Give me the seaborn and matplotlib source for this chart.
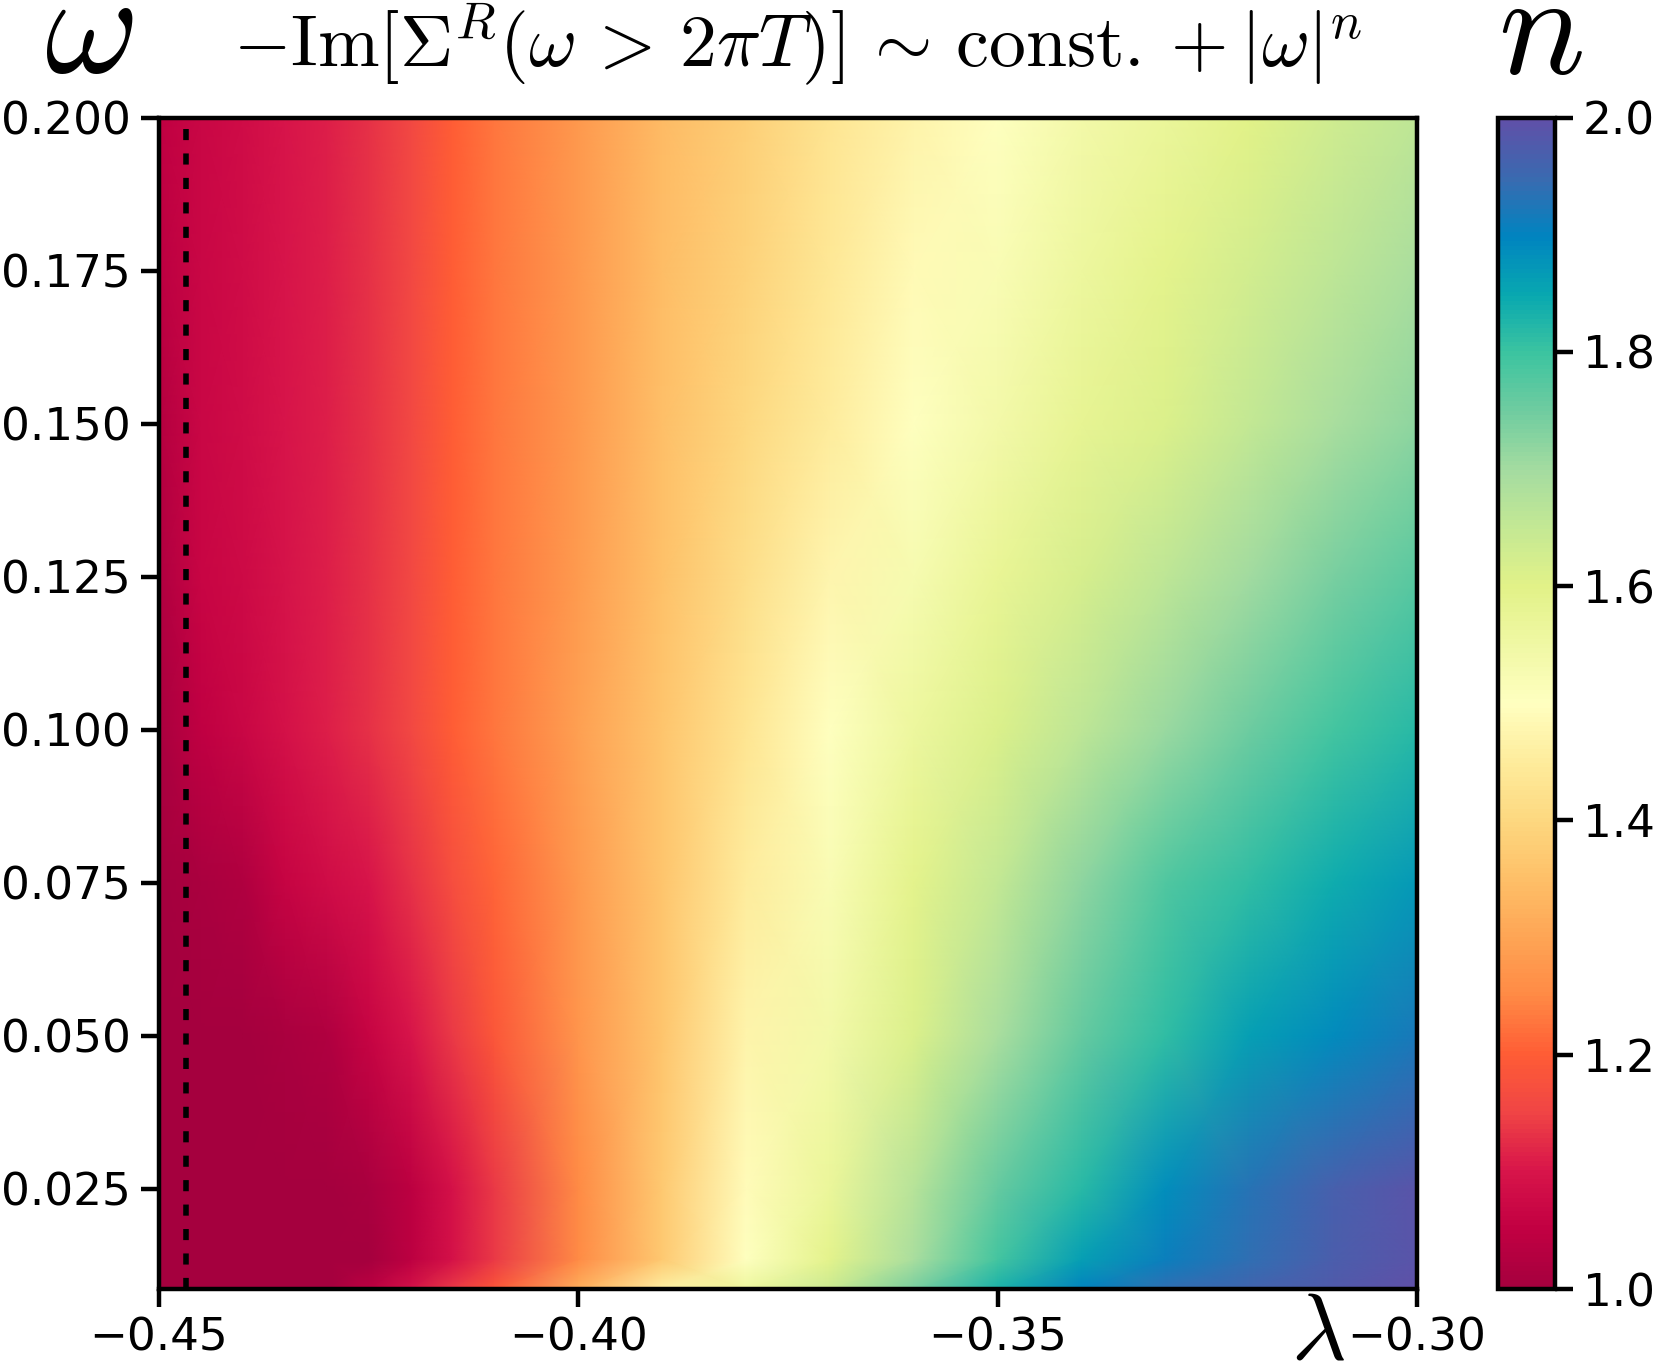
#-----------------------------------------------------------------------------#
'''導入Module'''
import numpy as np
import matplotlib
matplotlib.use("Agg")
import matplotlib.pyplot as plt
import seaborn as sns
#-----------------------------------------------------------------------------#
'''資料 (由圖讀出的 n 值)'''
lam = [-0.45, -0.445, -0.44, -0.435, -0.43, -0.425, -0.42, -0.415, -0.41,
       -0.40, -0.39, -0.38, -0.37, -0.36, -0.35, -0.34, -0.33, -0.32, -0.31, -0.30]
omega = [0.0086, 0.0135, 0.025, 0.05, 0.075, 0.1, 0.125, 0.15, 0.175, 0.2]

n_w0086 = [1.0, 1.0, 1.0, 1.0, 1.0, 1.04, 1.09, 1.14, 1.19, 1.32, 1.46, 1.56, 1.64, 1.74, 1.83, 1.90, 1.94, 1.96, 1.98, 2.0]
n_w0135 = [1.0, 1.0, 1.0, 1.0, 1.0, 1.0, 1.04, 1.09, 1.14, 1.25, 1.37, 1.50, 1.59, 1.69, 1.79, 1.86, 1.91, 1.94, 1.97, 1.99]
n_w025 = [1.0, 1.0, 1.0, 1.0, 1.0, 1.01, 1.04, 1.09, 1.14, 1.25, 1.37, 1.49, 1.57, 1.67, 1.76, 1.82, 1.885, 1.93, 1.965, 1.99]
n_w050 = [1.0, 1.0, 1.0, 1.01, 1.02, 1.06, 1.10, 1.14, 1.19, 1.27, 1.36, 1.47, 1.54, 1.61, 1.69, 1.76, 1.81, 1.86, 1.89, 1.92]
n_w075 = [1.0, 1.01, 1.02, 1.06, 1.08, 1.10, 1.13, 1.17, 1.21, 1.28, 1.36, 1.45, 1.52, 1.59, 1.65, 1.72, 1.78, 1.81, 1.84, 1.87]
n_w100 = [1.01, 1.05, 1.07, 1.09, 1.11, 1.13, 1.16, 1.20, 1.23, 1.29, 1.36, 1.43, 1.50, 1.56, 1.61, 1.66, 1.71, 1.75, 1.79, 1.82]
n_w125 = [1.02, 1.065, 1.075, 1.095, 1.11, 1.13, 1.16, 1.20, 1.23, 1.285, 1.355, 1.415, 1.475, 1.53, 1.575, 1.62, 1.66, 1.70, 1.74, 1.77]
n_w150 = [1.03, 1.07, 1.08, 1.10, 1.11, 1.13, 1.16, 1.20, 1.23, 1.28, 1.35, 1.40, 1.45, 1.50, 1.54, 1.58, 1.61, 1.65, 1.69, 1.72]
n_w175 = [1.04, 1.07, 1.08, 1.10, 1.11, 1.13, 1.16, 1.20, 1.23, 1.28, 1.345, 1.39, 1.44, 1.485, 1.52, 1.56, 1.59, 1.625, 1.66, 1.69]
n_w200 = [1.05, 1.07, 1.08, 1.10, 1.11, 1.13, 1.16, 1.20, 1.23, 1.28, 1.34, 1.38, 1.43, 1.47, 1.50, 1.54, 1.57, 1.60, 1.63, 1.66]

lam_c = -0.4468   # 虛線位置
xticks = [-0.45, -0.40, -0.35, -0.30]
yticks = [0.025, 0.050, 0.075, 0.100, 0.125, 0.150, 0.175, 0.200]
cticks = [1.0, 1.2, 1.4, 1.6, 1.8, 2.0]

# colorbar 上每 0.05 取色
cmap_colors = ["#a5003e", "#c20042", "#d8154a", "#f04545", "#ff5d35", "#ff8a45",
               "#fea555", "#fec068", "#fdd880", "#feec9c", "#ffffc0", "#f0f8a4",
               "#e2f288", "#c4e894", "#a4dca0", "#70cca0", "#3cc4a0", "#08a8b0",
               "#0084c0", "#3a6ab0", "#6050a8"]
#-----------------------------------------------------------------------------#
'''畫圖'''
sns.set_style("ticks")
plt.rcParams["font.family"] = ["DejaVu Sans"]
plt.rcParams["mathtext.fontset"] = "cm"
plt.rcParams["axes.linewidth"] = 1.6
for key in ["text.color", "axes.labelcolor", "xtick.color", "ytick.color", "axes.edgecolor"]:
    plt.rcParams[key] = "black"

cmap = sns.blend_palette(cmap_colors, as_cmap=True)
Z = np.array([n_w0086, n_w0135, n_w025, n_w050, n_w075,
              n_w100, n_w125, n_w150, n_w175, n_w200])

fig = plt.figure(figsize=(1661 / 200, 1368 / 200), dpi=200)
ax = fig.add_axes([0.0957, 0.0577, 0.7574, 0.8563])
cax = fig.add_axes([0.9019, 0.0577, 0.0343, 0.8563])

mesh = ax.pcolormesh(lam, omega, Z, cmap=cmap, vmin=1, vmax=2, shading="gouraud")
ax.axvline(lam_c, color="k", lw=2.0, linestyle=(0, (2.0, 2.4)))

ax.set_xlim(-0.45, -0.30)
ax.set_ylim(0.0086, 0.2)
ax.set_xticks(xticks)
ax.set_yticks(yticks)
ax.set_xticklabels(["\u2212%.2f" % abs(v) for v in xticks])
ax.set_yticklabels(["%.3f" % v for v in yticks])
ax.tick_params(labelsize=16.3, width=1.6, length=6.5, colors="k")
for s in ax.spines.values():
    s.set_linewidth(1.6)

cb = fig.colorbar(mesh, cax=cax)
cb.set_ticks(cticks)
cb.set_ticklabels(["%.1f" % v for v in cticks])
cb.ax.tick_params(labelsize=16.3, width=1.6, length=6.5, colors="k")
cb.outline.set_linewidth(1.6)
cb.outline.set_edgecolor("k")

fig.text(0.4805, 0.967,
         r"$-\mathrm{Im}[\Sigma^R(\omega\,>\,2\pi T)]\,\sim\,\mathrm{const.}+|\omega|^n$",
         fontsize=26.6, ha="center", va="center")
fig.text(0.0536, 0.9765, r"$\omega$", fontsize=52, ha="center", va="center")
fig.text(0.9277, 0.976, r"$n$", fontsize=52, ha="center", va="center")
fig.text(0.7934, 0.0263, r"$\lambda$", fontsize=34, ha="center", va="center")

plt.savefig("out.png", dpi=200)
